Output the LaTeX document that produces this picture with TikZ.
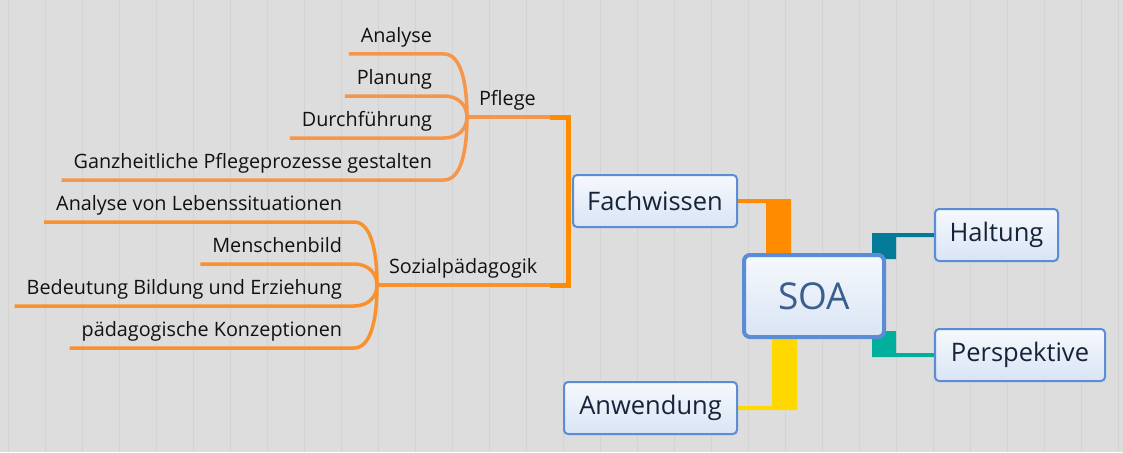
\documentclass[tikz,border=0pt]{standalone}
\usepackage{fontspec}
\setmainfont{Open Sans}
\usetikzlibrary{calc}

\definecolor{bgcol}{HTML}{DDDDDD}
\definecolor{plankcol}{HTML}{D3D3D3}
\definecolor{boxline}{HTML}{5A8DD6}
\definecolor{boxtop}{HTML}{F6F9FD}
\definecolor{boxbot}{HTML}{D9E4F4}
\definecolor{boxtext}{HTML}{16243A}
\definecolor{soatext}{HTML}{3A5E8E}
\definecolor{leaftext}{HTML}{111111}
\definecolor{fachcol}{HTML}{FF8C00}
\definecolor{pflegecol}{HTML}{F5964B}
\definecolor{sozialcol}{HTML}{F9912E}
\definecolor{haltcol}{HTML}{037B98}
\definecolor{perspcol}{HTML}{00B09D}
\definecolor{anwcol}{HTML}{FFD800}

\pgfdeclarelayer{planks}
\pgfdeclarelayer{links}
\pgfsetlayers{planks,links,main}

\begin{document}
\begin{tikzpicture}[x=1pt,y=-1pt,inner sep=0pt,outer sep=0pt,
core/.style={draw=boxline,line width=4pt,rounded corners=6pt,top color=boxtop,bottom color=boxbot,text=soatext,font=\fontsize{37}{42}\selectfont,minimum width=140pt,minimum height=82pt},
topic/.style={draw=boxline,line width=2pt,rounded corners=4pt,top color=boxtop,bottom color=boxbot,text=boxtext,font=\fontsize{25.5}{30}\selectfont,minimum height=52pt},
leaf/.style={inner xsep=12pt,inner ysep=8pt,text height=14pt,text depth=4pt,text=leaftext,font=\fontsize{19.8}{23}\selectfont},
pflegeline/.style={draw=pflegecol,line width=3.5pt},
sozialline/.style={draw=sozialcol,line width=3.5pt}]

\useasboundingbox (0,0) rectangle (1123,452);

% wooden background
\begin{pgfonlayer}{planks}
\fill[bgcol] (0,0) rectangle (1123,452);
\foreach \x in {8,45,...,1123}
  \draw[plankcol,line width=0.8pt] (\x,0) -- (\x,452);
\end{pgfonlayer}

% main topics
\node[core] (soa) at (814,296) {SOA};
\node[topic,minimum width=164pt] (fach) at (655,201) {Fachwissen};
\node[topic,minimum width=123pt] (halt) at (996.5,235) {Haltung};
\node[topic,minimum width=170pt] (persp) at (1020,355) {Perspektive};
\node[topic,minimum width=173pt] (anw) at (650.5,408) {Anwendung};

% links to the centre
\begin{pgfonlayer}{links}
\fill[fachcol] ($(fach.east)+(0,-2)$) -| ($(soa.north)+(-23,0)$) -- ++(-25,0) |- ($(fach.east)+(0,2)$) -- cycle;
\fill[haltcol] ($(halt.west)+(0,-2)$) -| ($(soa.north east)+(-12,4)$) -- ++(24,0) |- ($(halt.west)+(0,2)$) -- cycle;
\fill[perspcol] ($(persp.west)+(0,2)$) -| ($(soa.south east)+(-12,-6)$) -- ++(24,0) |- ($(persp.west)+(0,-2)$) -- cycle;
\fill[anwcol] ($(anw.east)+(0,2)$) -| ($(soa.south)+(-17,0)$) -- ++(-25,0) |- ($(anw.east)+(0,-2)$) -- cycle;
\end{pgfonlayer}

% Fachwissen subtopics
\node[leaf,anchor=south west] (pflege) at (467,117) {Pflege};
\node[leaf,anchor=south west] (sozial) at (377,285) {Sozialpädagogik};
\draw[pflegeline] (pflege.south west) -- ($(fach.west)+(-23,-84)$);
\draw[sozialline] (sozial.south west) -- ($(fach.west)+(-23,84)$);
\draw[fachcol,line width=5pt] ($(fach.west)+(-23,-84)$) -| ($(fach.west)+(-5,0)$) |- ($(fach.west)+(-23,84)$);

% Pflege
\node[leaf,anchor=south east] (p1) at (444,54) {Analyse};
\node[leaf,anchor=south east] (p2) at (444,96) {Planung};
\node[leaf,anchor=south east] (p3) at (444,138) {Durchführung};
\node[leaf,anchor=south east] (p4) at (444,180) {Ganzheitliche Pflegeprozesse gestalten};
\draw[pflegeline] (p1.south west) -- (p1.south east) .. controls +(15,0) and +(0,-40) .. (pflege.south west);
\draw[pflegeline] (p2.south west) -- (p2.south east) .. controls +(14,0) and +(0,-12) .. (pflege.south west);
\draw[pflegeline] (p3.south west) -- (p3.south east) .. controls +(14,0) and +(0,12) .. (pflege.south west);
\draw[pflegeline] (p4.south west) -- (p4.south east) .. controls +(15,0) and +(0,40) .. (pflege.south west);

% Sozialpaedagogik
\node[leaf,anchor=south east] (s1) at (354,222) {Analyse von Lebenssituationen};
\node[leaf,anchor=south east] (s2) at (354,264) {Menschenbild};
\node[leaf,anchor=south east] (s3) at (354,306) {Bedeutung Bildung und Erziehung};
\node[leaf,anchor=south east] (s4) at (354,348) {pädagogische Konzeptionen};
\draw[sozialline] (s1.south west) -- (s1.south east) .. controls +(15,0) and +(0,-40) .. (sozial.south west);
\draw[sozialline] (s2.south west) -- (s2.south east) .. controls +(14,0) and +(0,-12) .. (sozial.south west);
\draw[sozialline] (s3.south west) -- (s3.south east) .. controls +(14,0) and +(0,12) .. (sozial.south west);
\draw[sozialline] (s4.south west) -- (s4.south east) .. controls +(15,0) and +(0,40) .. (sozial.south west);
\end{tikzpicture}
\end{document}
